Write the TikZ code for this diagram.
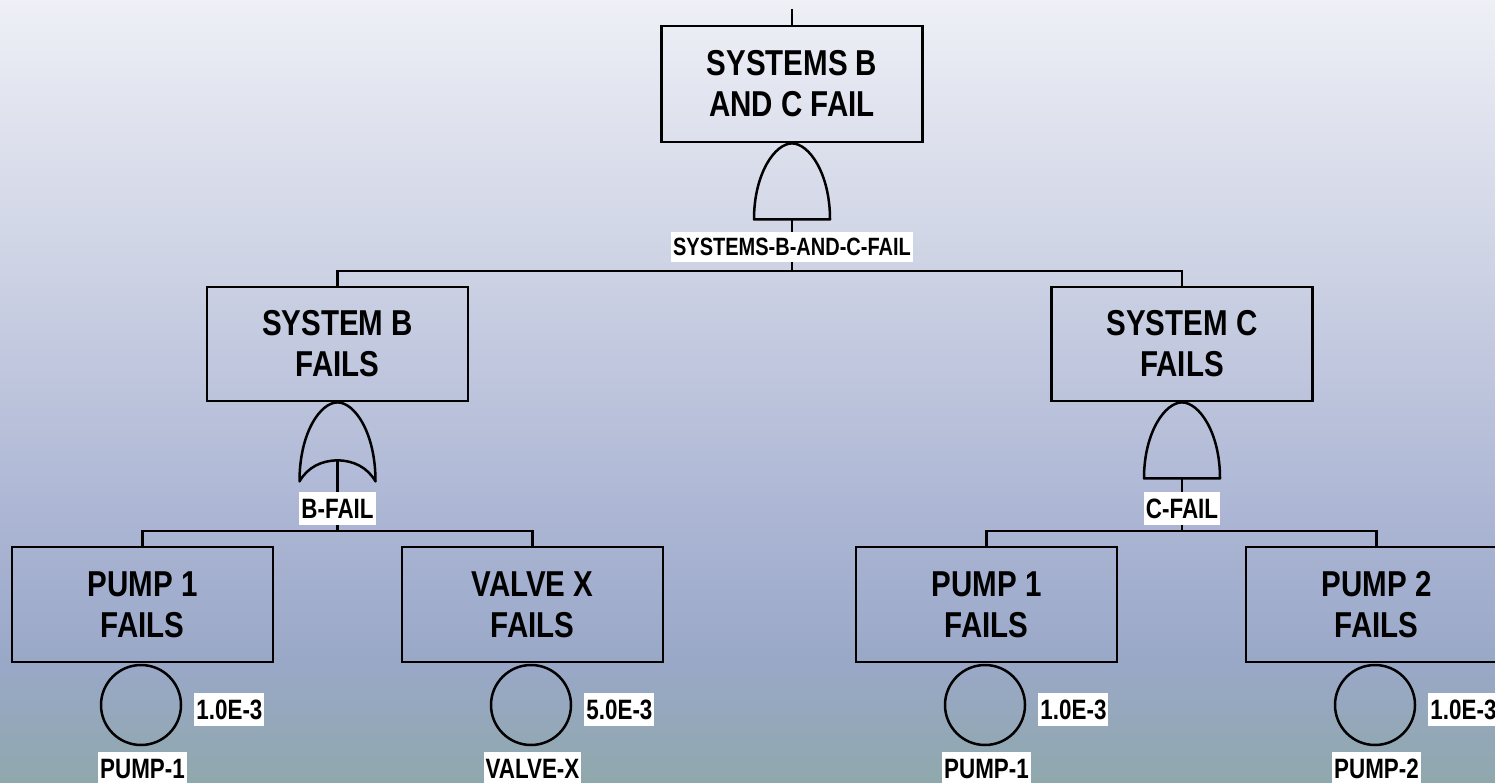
\documentclass[tikz,border=0pt]{standalone}
\usepackage{fontspec}
\newfontfamily\narrowsans[FakeStretch=0.82]{Liberation Sans}
\newfontfamily\tagsans[FakeStretch=0.80]{Liberation Sans}

% backdrop colours, top to bottom
\definecolor{bgA}{RGB}{238,240,246}
\definecolor{bgB}{RGB}{205,210,228}
\definecolor{bgC}{RGB}{170,180,211}
\definecolor{bgD}{RGB}{154,168,200}
\definecolor{bgE}{RGB}{143,168,172}
\pgfdeclareverticalshading{ftbackdrop}{100bp}{%
  color(0bp)=(bgE); color(25bp)=(bgE); color(32.85bp)=(bgD);
  color(41.16bp)=(bgC); color(57.76bp)=(bgB); color(75bp)=(bgA);
  color(100bp)=(bgA)}

\tikzset{
  eventbox/.style={draw=black, line width=2.8pt, minimum width=261pt,
    minimum height=115pt, inner sep=0pt, align=center,
    font=\narrowsans\bfseries\fontsize{36pt}{41pt}\selectfont},
  wire/.style={draw=black, line width=2.8pt},
  gateline/.style={draw=black, line width=2.5pt, line join=round},
  basic/.style={circle, draw=black, line width=2.5pt, minimum size=80pt, inner sep=0pt},
  tag/.style={fill=white, inner xsep=2pt, inner ysep=0pt, minimum height=33pt,
    text height=20pt, text depth=0pt,
    font=\tagsans\bfseries\fontsize{28pt}{32pt}\selectfont},
  longtag/.style={tag, minimum height=30pt, text height=18pt,
    font=\tagsans\bfseries\fontsize{25pt}{30pt}\selectfont},
  andgate/.pic={
    \draw[gateline] (-38,76) .. controls (-38,30) and (-17,0) .. (0,0)
      .. controls (17,0) and (38,30) .. (38,76) -- cycle;
    \coordinate (-out) at (0,76);
  },
  orgate/.pic={
    \draw[gateline] (-38,79) .. controls (-38,30) and (-17,0) .. (0,0)
      .. controls (17,0) and (38,30) .. (38,79)
      .. controls (30,65) and (16,58) .. (0,58)
      .. controls (-16,58) and (-30,65) .. (-38,79) -- cycle;
    \coordinate (-out) at (0,58);
  }
}

\begin{document}
\begin{tikzpicture}[x=1pt, y=-1pt]
  \useasboundingbox (0,0) rectangle (1495,783);
  \shade[shading=ftbackdrop] (0,0) rectangle (1495,783);

  % gate events
  \node[eventbox] (top)  at (792,84)    [minimum height=116pt] {SYSTEMS B\\AND C FAIL};
  \node[eventbox] (sysB) at (337.5,344) [minimum height=114pt] {SYSTEM B\\FAILS};
  \node[eventbox] (sysC) at (1182,344)  [minimum height=114pt] {SYSTEM C\\FAILS};

  % basic-event boxes
  \node[eventbox] (p1)  at (142.5,604.5)  {PUMP 1\\FAILS};
  \node[eventbox] (vx)  at (532.5,604.5)  {VALVE X\\FAILS};
  \node[eventbox] (p1c) at (986.5,604.5)  {PUMP 1\\FAILS};
  \node[eventbox] (p2)  at (1376.5,604.5) {PUMP 2\\FAILS};

  % logic gates hanging under their events
  \pic (gTop) at (top.south)  {andgate};
  \pic (gB)   at (sysB.south) {orgate};
  \pic (gC)   at (sysC.south) {andgate};

  % connectors
  \coordinate (feed) at (792,9);
  \coordinate (busTop) at (0,271);
  \coordinate (busB) at (0,531);
  \coordinate (busC) at (0,531);
  \draw[wire] (feed) -- (top.north);
  \draw[wire] (gTop-out) -- (gTop-out |- busTop);
  \draw[wire] (sysB.north) |- (gTop-out |- busTop) -| (sysC.north);
  \draw[wire] (gB-out) -- (gB-out |- busB);
  \draw[wire] (p1.north) |- (gB-out |- busB) -| (vx.north);
  \draw[wire] (gC-out) -- (gC-out |- busC);
  \draw[wire] (p1c.north) |- (gC-out |- busC) -| (p2.north);

  % gate identifiers
  \node[longtag] (tTop) at (792,247) {SYSTEMS-B-AND-C-FAIL};
  \node[tag] (tB) at (337.5,508.5) {B-FAIL};
  \node[tag] (tC) at (1182,508.5)  {C-FAIL};

  % basic events with probabilities and identifiers
  \node[basic] (e1) at (141,705)  {};
  \node[basic] (e2) at (531,705)  {};
  \node[basic] (e3) at (985,705)  {};
  \node[basic] (e4) at (1375,705) {};

  \node[tag, anchor=west] (q1) at ([xshift=12pt,yshift=-4.5pt]e1.east) {1.0E-3};
  \node[tag, anchor=west] (q2) at ([xshift=12pt,yshift=-4.5pt]e2.east) {5.0E-3};
  \node[tag, anchor=west] (q3) at ([xshift=12pt,yshift=-4.5pt]e3.east) {1.0E-3};
  \node[tag, anchor=west] (q4) at ([xshift=12pt,yshift=-4.5pt]e4.east) {1.0E-3};

  \node[tag, anchor=north] (n1) at ([xshift=1.5pt,yshift=-6pt]e1.south) {PUMP-1};
  \node[tag, anchor=north] (n2) at ([xshift=1.5pt,yshift=-6pt]e2.south) {VALVE-X};
  \node[tag, anchor=north] (n3) at ([xshift=1.5pt,yshift=-6pt]e3.south) {PUMP-1};
  \node[tag, anchor=north] (n4) at ([xshift=1.5pt,yshift=-6pt]e4.south) {PUMP-2};
\end{tikzpicture}
\end{document}
